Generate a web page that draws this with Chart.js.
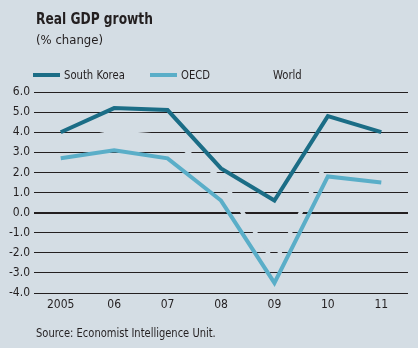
<!DOCTYPE html>
<html>
<head>
<meta charset="utf-8">
<script src="https://cdn.jsdelivr.net/npm/chart.js@4.4.1/dist/chart.umd.min.js"></script>
<style>
  html, body { margin: 0; padding: 0; background: #d4dde4; }
  #wrap { position: relative; width: 418px; height: 348px; overflow: hidden;
          font-family: "DejaVu Sans Condensed", "DejaVu Sans", sans-serif; color: #231f20; }
  #chart { position: absolute; left: 0; top: 0; }
  .txt { position: absolute; white-space: nowrap; transform-origin: 0 50%; }
  #title { left: 36px; top: 9px; font-size: 16px; font-weight: bold; transform: scaleX(0.85); }
  #subtitle { left: 36px; top: 32px; font-size: 13px; }
  #source { left: 36px; top: 326px; font-size: 11.5px; transform: scaleX(0.96); }
  .leg { position: absolute; top: 67px; height: 16px; font-size: 13px; line-height: 16px; }
  .leg .sw { position: absolute; left: 0; top: 6px; width: 27px; height: 4px; }
  .leg .lb { position: absolute; left: 31px; top: 0; white-space: nowrap;
             transform: scaleX(0.86); transform-origin: 0 50%; }
</style>
</head>
<body>
<div id="wrap">
  <canvas id="chart" width="418" height="348"></canvas>
  <div class="txt" id="title">Real GDP growth</div>
  <div class="txt" id="subtitle">(% change)</div>
  <div id="legend"></div>
  <div class="txt" id="source">Source: Economist Intelligence Unit.</div>
</div>
<script>
// Years on the horizontal axis
const years = ["2005", "06", "07", "08", "09", "10", "11"];

// Real GDP growth, % change
const southKorea = [4.0, 5.2, 5.1, 2.2, 0.6, 4.8, 4.0];
const oecd       = [2.7, 3.1, 2.7, 0.6, -3.5, 1.8, 1.5];
const world      = [3.5, 4.0, 3.8, 1.7, -2.5, 2.6, 2.5];

// Vertical axis range
const yMin = -4;
const yMax = 6;

const seriesNames  = ["South Korea", "OECD", "World"];
const bg = "#d4dde4";
const seriesColors = ["#1b6d86", "#5aaec8", bg];
const legendLeft   = [33, 150, 242];

// Legend row
const legend = document.getElementById("legend");
seriesNames.forEach((name, i) => {
  const item = document.createElement("div");
  item.className = "leg";
  item.style.left = legendLeft[i] + "px";
  item.innerHTML = '<span class="sw" style="background:' + seriesColors[i] + '"></span>' +
                   '<span class="lb">' + name + '</span>';
  legend.appendChild(item);
});

const font = { family: '"DejaVu Sans Condensed", "DejaVu Sans", sans-serif', size: 12 };
const ink = "#231f20";

new Chart(document.getElementById("chart"), {
  type: "line",
  data: {
    labels: years,
    datasets: [southKorea, oecd, world].map((values, i) => ({
      label: seriesNames[i],
      data: values,
      borderColor: seriesColors[i],
      borderWidth: 4,
      pointRadius: 0,
      tension: 0,
      fill: false
    }))
  },
  options: {
    responsive: false,
    animation: false,
    devicePixelRatio: 1,
    layout: { padding: { top: 92, right: 10, left: 0, bottom: 0 } },
    plugins: { legend: { display: false }, tooltip: { enabled: false } },
    scales: {
      x: {
        offset: true,
        grid: { display: false, drawTicks: false },
        border: { display: false },
        ticks: { color: ink, font: font, padding: 5, maxRotation: 0 },
        afterFit: s => { s.height = 55; }
      },
      y: {
        min: yMin,
        max: yMax,
        grid: {
          color: ink,
          drawTicks: false,
          lineWidth: ctx => (ctx.tick && ctx.tick.value === 0 ? 2 : 1)
        },
        border: { display: false },
        ticks: {
          stepSize: 1,
          color: ink,
          font: font,
          padding: 4,
          callback: v => v.toFixed(1)
        },
        afterFit: s => { s.width = 34; }
      }
    }
  }
});
</script>
</body>
</html>
